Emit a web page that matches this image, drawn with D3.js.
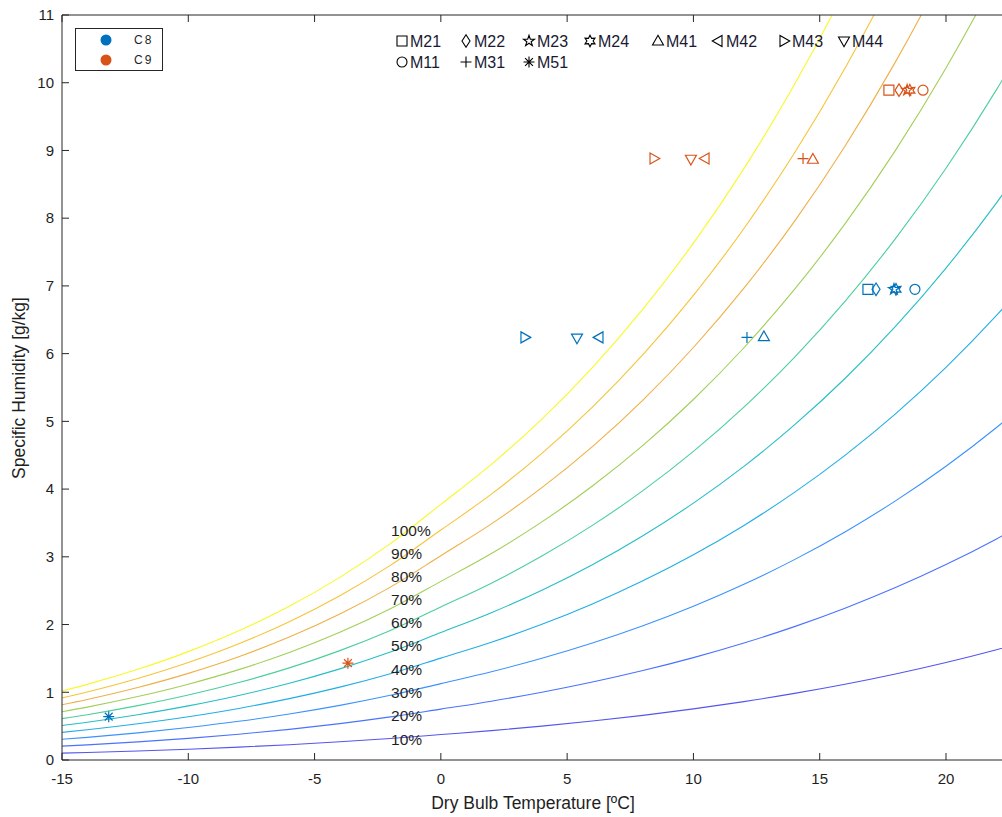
<!DOCTYPE html>
<html><head><meta charset="utf-8">
<script src="https://cdn.jsdelivr.net/npm/d3@7"></script>
<style>body{margin:0;background:#fff}svg{display:block}text{font-family:"Liberation Sans",Arial,sans-serif}</style>
</head><body><svg id="c" width="1002" height="817"></svg>
<script>
// ---- data ----
const tempC = [-16,-14,-12,-10,-8,-6,-4,-2,0,2,4,6,8,10,12,14,16,18,20,22,24];
const rh10  = [0.0927,0.1114,0.1336,0.1597,0.1902,0.2262,0.2685,0.3180,0.3754,0.4337,0.4998,0.5747,0.6594,0.7549,0.8623,0.9831,1.1185,1.2701,1.4393,1.6281,1.8382];
const rh20  = [0.1854,0.2229,0.2673,0.3194,0.3806,0.4526,0.5374,0.6362,0.7513,0.8680,1.0004,1.1504,1.3202,1.5116,1.7271,1.9693,2.2410,2.5453,2.8852,3.2646,3.6872];
const rh30  = [0.2782,0.3344,0.4010,0.4792,0.5710,0.6791,0.8063,0.9549,1.1276,1.3029,1.5017,1.7272,1.9823,2.2701,2.5942,2.9587,3.3677,3.8258,4.3379,4.9099,5.5473];
const rh40  = [0.3710,0.4460,0.5348,0.6391,0.7616,0.9059,1.0757,1.2738,1.5044,1.7385,2.0039,2.3051,2.6459,3.0305,3.4637,3.9512,4.4983,5.1115,5.7973,6.5638,7.4185];
const rh50  = [0.4638,0.5576,0.6686,0.7990,0.9524,1.1328,1.3451,1.5931,1.8817,2.1745,2.5070,2.8840,3.3109,3.7928,4.3357,4.9469,5.6331,6.4026,7.2637,8.2264,9.3008];
const rh60  = [0.5567,0.6692,0.8025,0.9591,1.1432,1.3599,1.6149,1.9127,2.2594,2.6112,3.0108,3.4641,3.9774,4.5569,5.2100,5.9457,6.7720,7.6988,8.7368,9.8978,11.1944];
const rh70  = [0.6496,0.7809,0.9364,1.1192,1.3341,1.5870,1.8848,2.2326,2.6375,3.0486,3.5154,4.0451,4.6451,5.3229,6.0869,6.9477,7.9150,9.0006,10.2168,11.5781,13.0995];
const rh80  = [0.7425,0.8926,1.0704,1.2794,1.5251,1.8145,2.1550,2.5528,3.0161,3.4865,4.0208,4.6274,5.3144,6.0906,6.9662,7.9530,9.0621,10.3076,11.7038,13.2673,15.0160];
const rh90  = [0.8353,1.0044,1.2045,1.4397,1.7163,2.0420,2.4254,2.8734,3.3951,3.9251,4.5271,5.2106,5.9851,6.8604,7.8480,8.9614,10.2135,11.6202,13.1980,14.9655,16.9441];
const rh100 = [0.9283,1.1162,1.3387,1.6002,1.9076,2.2698,2.6961,3.1943,3.7747,4.3643,5.0342,5.7950,6.6573,7.6320,8.7322,9.9731,11.3691,12.9381,14.6989,16.6732,18.8840];
const rhLabels = ["10%","20%","30%","40%","50%","60%","70%","80%","90%","100%"];
const rhLabelW = [0.31,0.655,1.0,1.34,1.685,2.03,2.37,2.71,3.05,3.39];
const rhColors = ["#5555ee","#4a72ff","#3a92ff","#22aee6","#26bec6","#4ccf9c","#a2cf58","#eeb048","#f6c43a","#f8f82a"];

const markerNames = ["M21","M22","M23","M24","M41","M42","M43","M44","M11","M31","M51"];
const markerShapes = ["square","diamond","star","hexagram","up","left","right","down","circle","plus","asterisk"];
const c8T = [16.91,17.23,17.94,18.02,12.79,6.26,3.33,5.39,18.77,12.12,-13.15];
const c8W = [6.95,6.95,6.95,6.95,6.25,6.24,6.24,6.23,6.95,6.24,0.64];
const c9T = [17.74,18.14,18.46,18.57,14.73,10.46,8.44,9.90,19.09,14.34,-3.68];
const c9W = [9.89,9.89,9.89,9.89,8.87,8.88,8.88,8.87,9.89,8.88,1.43];
const groups = ["C8","C9"];
const groupColors = ["#0072BD","#D95319"];
const xTicks = [-15,-10,-5,0,5,10,15,20];
const yTicks = [0,1,2,3,4,5,6,7,8,9,10,11];

// ---- layout ----
const svg = d3.select("#c");
const L = 62, T = 15, B = 760;
const x = d3.scaleLinear().domain([-15, 22.3]).range([L, L + 37.3 * 25.257]);
const y = d3.scaleLinear().domain([0, 11]).range([B, T]);
const R = x(22.3);
const ink = "#1f1f1f";

svg.append("defs").append("clipPath").attr("id","clip")
  .append("rect").attr("x",L).attr("y",T).attr("width",R-L).attr("height",B-T);

const curves = [rh10,rh20,rh30,rh40,rh50,rh60,rh70,rh80,rh90,rh100];
const line = d3.line().x(d=>x(d[0])).y(d=>y(d[1])).curve(d3.curveMonotoneX);
const gc = svg.append("g").attr("clip-path","url(#clip)");
curves.forEach((c,i)=>{
  gc.append("path").attr("d", line(tempC.map((t,j)=>[t,c[j]])))
    .attr("fill","none").attr("stroke",rhColors[i]).attr("stroke-width",1.1);
});

// RH labels
rhLabels.forEach((lab,i)=>{
  svg.append("text").attr("x",x(-1.97)).attr("y",y(rhLabelW[i])).attr("dy","0.36em")
    .attr("font-size",15.5).attr("fill",ink).text(lab);
});

// markers
function shape(kind, s){
  const p = d3.path();
  if(kind==="square"){ p.rect(-s,-s,2*s,2*s); }
  else if(kind==="diamond"){ p.moveTo(0,-s*1.25);p.lineTo(s*0.8,0);p.lineTo(0,s*1.25);p.lineTo(-s*0.8,0);p.closePath(); }
  else if(kind==="circle"){ p.moveTo(s,0); p.arc(0,0,s,0,2*Math.PI); }
  else if(kind==="up"){ p.moveTo(0,-s*1.15);p.lineTo(s*1.1,s*0.8);p.lineTo(-s*1.1,s*0.8);p.closePath(); }
  else if(kind==="down"){ p.moveTo(0,s*1.15);p.lineTo(s*1.1,-s*0.8);p.lineTo(-s*1.1,-s*0.8);p.closePath(); }
  else if(kind==="left"){ p.moveTo(-s*1.15,0);p.lineTo(s*0.8,-s*1.1);p.lineTo(s*0.8,s*1.1);p.closePath(); }
  else if(kind==="right"){ p.moveTo(s*1.15,0);p.lineTo(-s*0.8,-s*1.1);p.lineTo(-s*0.8,s*1.1);p.closePath(); }
  else if(kind==="plus"){ p.moveTo(-s*1.1,0);p.lineTo(s*1.1,0);p.moveTo(0,-s*1.1);p.lineTo(0,s*1.1); }
  else if(kind==="asterisk"){ const r=s*1.1; for(let k=0;k<4;k++){const a=k*Math.PI/4; p.moveTo(-r*Math.cos(a),-r*Math.sin(a)); p.lineTo(r*Math.cos(a),r*Math.sin(a));} }
  else if(kind==="star"){ const ro=s*1.15, ri=s*0.45; for(let k=0;k<10;k++){const a=-Math.PI/2+k*Math.PI/5, r=k%2?ri:ro; k?p.lineTo(r*Math.cos(a),r*Math.sin(a)):p.moveTo(r*Math.cos(a),r*Math.sin(a));} p.closePath(); }
  else if(kind==="hexagram"){ const ro=s*1.15, ri=s*0.62; for(let k=0;k<12;k++){const a=-Math.PI/2+k*Math.PI/6, r=k%2?ri:ro; k?p.lineTo(r*Math.cos(a),r*Math.sin(a)):p.moveTo(r*Math.cos(a),r*Math.sin(a));} p.closePath(); }
  return p.toString();
}
const gm = svg.append("g").attr("clip-path","url(#clip)");
[[c8T,c8W],[c9T,c9W]].forEach((g,gi)=>{
  markerShapes.forEach((k,i)=>{
    gm.append("path").attr("d",shape(k,5))
      .attr("transform",`translate(${x(g[0][i])},${y(g[1][i])})`)
      .attr("fill","none").attr("stroke",groupColors[gi]).attr("stroke-width",1.2);
  });
});

// axes
const ax = svg.append("g").attr("font-size",15).attr("fill",ink);
svg.append("path").attr("d",`M${L},${T}H${R+5}M${L},${T}V${B}H${R+5}`)
  .attr("fill","none").attr("stroke","#262626").attr("stroke-width",1);
xTicks.forEach(t=>{
  svg.append("line").attr("x1",x(t)).attr("x2",x(t)).attr("y1",B).attr("y2",B-7).attr("stroke","#262626");
  svg.append("line").attr("x1",x(t)).attr("x2",x(t)).attr("y1",T).attr("y2",T+7).attr("stroke","#262626");
  ax.append("text").attr("x",x(t)).attr("y",B+24).attr("text-anchor","middle").text(t);
});
yTicks.forEach(t=>{
  svg.append("line").attr("x1",L).attr("x2",L+7).attr("y1",y(t)).attr("y2",y(t)).attr("stroke","#262626");
  ax.append("text").attr("x",L-8).attr("y",y(t)).attr("dy","0.35em").attr("text-anchor","end").text(t);
});
ax.append("text").attr("x",533).attr("y",809).attr("text-anchor","middle").attr("font-size",17.5).text("Dry Bulb Temperature [ºC]");
ax.append("text").attr("transform","translate(25,388) rotate(-90)").attr("text-anchor","middle").attr("font-size",17.5).text("Specific Humidity [g/kg]");

// group legend
svg.append("rect").attr("x",75.5).attr("y",28.5).attr("width",87).attr("height",42)
  .attr("fill","#fff").attr("stroke","#262626").attr("stroke-width",1);
groups.forEach((gname,i)=>{
  svg.append("circle").attr("cx",106).attr("cy",40+i*20).attr("r",5.5).attr("fill",groupColors[i]);
  svg.append("text").attr("x",134).attr("y",40+i*20).attr("dy","0.35em").attr("font-size",12)
    .attr("letter-spacing",2).attr("fill",ink).text(gname);
});

// marker legend
const legX = [402,466,529,590,658,718,784,844];
markerNames.forEach((n,i)=>{
  const row = i<8?0:1, col = i<8?i:i-8;
  const cx = legX[col], cy = 41 + row*21;
  svg.append("path").attr("d",shape(markerShapes[i],5)).attr("transform",`translate(${cx},${cy})`)
    .attr("fill","none").attr("stroke","#000").attr("stroke-width",1.1);
  svg.append("text").attr("x",cx+8).attr("y",cy).attr("dy","0.36em").attr("font-size",16)
    .attr("fill","#1a1a33").text(n);
});
</script></body></html>
